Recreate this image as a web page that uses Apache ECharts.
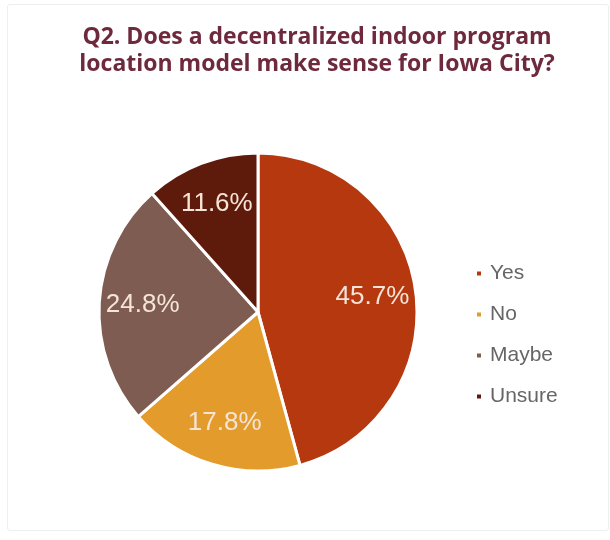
<!DOCTYPE html>
<html>
<head>
<meta charset="utf-8">
<script src="https://cdn.jsdelivr.net/npm/echarts@6/dist/echarts.min.js"></script>
<style>
  html, body { margin: 0; padding: 0; background: #fff; }
  #frame { position: absolute; left: 7px; top: 4px; width: 600px; height: 525px; border: 1px solid #eeeeee; border-radius: 3px; }
  #chart { position: absolute; left: 0; top: 0; width: 610px; height: 540px; }
</style>
</head>
<body>
<div id="frame"></div>
<div id="chart"></div>
<script>
// Survey answers, share of respondents (%)
const categories = ['Yes', 'No', 'Maybe', 'Unsure'];
const shares = [45.7, 17.8, 24.8, 11.6];
const sliceColors = ['#b5380f', '#e39b2b', '#7e5c52', '#5e1b0b'];

const titleText = 'Q2. Does a decentralized indoor program\nlocation model make sense for Iowa City?';

const pieData = categories.map((name, i) => ({
  name: name,
  value: shares[i],
  itemStyle: { color: sliceColors[i] }
}));

const chart = echarts.init(document.getElementById('chart'), null, { renderer: 'canvas' });

chart.setOption({
  backgroundColor: 'transparent',
  animation: false,
  title: {
    text: titleText,
    left: 312,
    top: 19,
    textAlign: 'center',
    textStyle: {
      fontFamily: 'Open Sans',
      fontWeight: 'bold',
      fontSize: 23,
      lineHeight: 27,
      color: '#6e2a3c'
    }
  },
  legend: {
    orient: 'vertical',
    left: 470,
    top: 258,
    icon: 'rect',
    itemWidth: 6,
    itemHeight: 6,
    itemGap: 20,
    data: categories,
    textStyle: {
      fontFamily: 'Liberation Sans',
      fontSize: 21,
      color: '#666666',
      padding: [0, 0, 0, 3]
    }
  },
  series: [
    {
      type: 'pie',
      center: [258, 312],
      radius: [0, 159],
      startAngle: 90,
      clockwise: true,
      silent: true,
      data: pieData,
      itemStyle: { borderColor: '#ffffff', borderWidth: 3 },
      label: { show: false },
      labelLine: { show: false }
    },
    {
      // transparent ring used only to place the percentage labels
      type: 'pie',
      center: [258, 312],
      radius: [70, 155],
      startAngle: 90,
      clockwise: true,
      silent: true,
      data: pieData.map(d => ({ name: d.name, value: d.value })),
      itemStyle: { color: 'rgba(0,0,0,0)', borderWidth: 0 },
      label: {
        show: true,
        position: 'inside',
        formatter: p => p.value.toFixed(1) + '%',
        fontFamily: 'Liberation Sans',
        fontSize: 26,
        color: '#f6e4d9'
      },
      labelLine: { show: false }
    }
  ]
});
</script>
</body>
</html>
